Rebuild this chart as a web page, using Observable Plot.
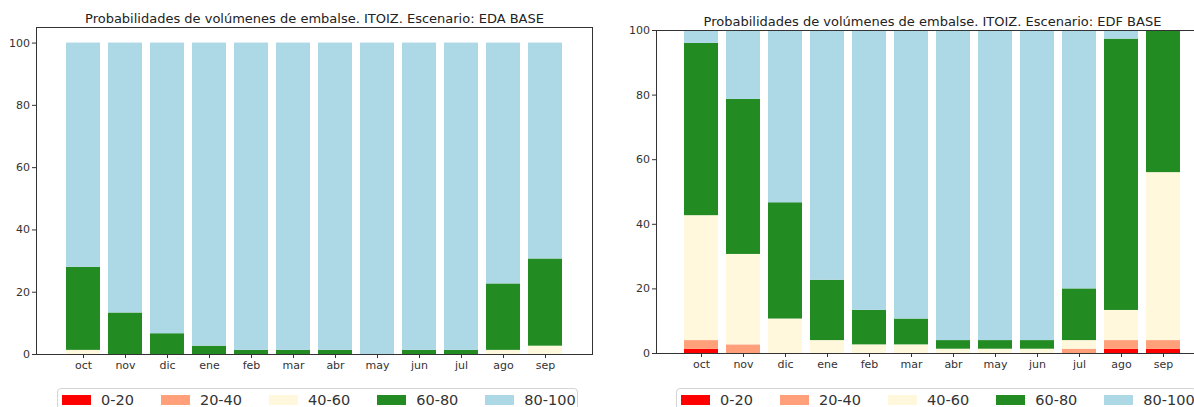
<!DOCTYPE html>
<html>
<head>
<meta charset="utf-8">
<script src="https://cdn.jsdelivr.net/npm/d3@7"></script>
<script src="https://cdn.jsdelivr.net/npm/@observablehq/plot@0.6"></script>
<style>
  html, body { margin: 0; padding: 0; background: #fff; }
  #fig { position: relative; width: 1194px; height: 407px; overflow: hidden; font-family: "DejaVu Sans", sans-serif; }
  .panel { position: absolute; top: 0; }
  .legend-box { position: absolute; top: 388px; width: 521px; height: 36px; box-sizing: border-box;
    border: 1px solid #d4d4d4; border-radius: 4px; background: #fff; padding: 3px 0 0 4px; }
  .legend-box > div { min-height: 0 !important; margin: 0 !important; flex-wrap: nowrap !important; white-space: nowrap; line-height: 16px; }
  .legend-box span { margin-right: 27px !important; }
  .legend-box span > svg { margin-right: 10px !important; }
</style>
</head>
<body>
<div id="fig"></div>
<script>
// Months of the hydrological year and storage-volume classes (% of capacity)
const months = ["oct", "nov", "dic", "ene", "feb", "mar", "abr", "may", "jun", "jul", "ago", "sep"];
const classes = ["0-20", "20-40", "40-60", "60-80", "80-100"];
const classColors = ["#ff0000", "#ffa07a", "#fff8dc", "#228b22", "#add8e6"];

const titleEDA = "Probabilidades de volúmenes de embalse. ITOIZ. Escenario: EDA BASE";
const titleEDF = "Probabilidades de volúmenes de embalse. ITOIZ. Escenario: EDF BASE";

// Scenario EDA BASE: probability (%) of each volume class per month
const eda_0_20   = [0, 0, 0, 0, 0, 0, 0, 0, 0, 0, 0, 0];
const eda_20_40  = [0, 0, 0, 0, 0, 0, 0, 0, 0, 0, 0, 0];
const eda_40_60  = [1.33, 0, 0, 0, 0, 0, 0, 0, 0, 0, 1.33, 2.67];
const eda_60_80  = [26.67, 13.33, 6.67, 2.67, 1.33, 1.33, 1.33, 0, 1.33, 1.33, 21.33, 28.00];
const eda_80_100 = [72.00, 86.67, 93.33, 97.33, 98.67, 98.67, 98.67, 100, 98.67, 98.67, 77.33, 69.33];

// Scenario EDF BASE
const edf_0_20   = [1.33, 0, 0, 0, 0, 0, 0, 0, 0, 0, 1.33, 1.33];
const edf_20_40  = [2.67, 2.67, 0, 0, 0, 0, 0, 0, 0, 1.33, 2.67, 2.67];
const edf_40_60  = [38.67, 28.00, 10.67, 4.00, 2.67, 2.67, 1.33, 1.33, 1.33, 2.67, 9.33, 52.00];
const edf_60_80  = [53.33, 48.00, 36.00, 18.67, 10.67, 8.00, 2.67, 2.67, 2.67, 16.00, 84.00, 44.00];
const edf_80_100 = [4.00, 21.33, 53.33, 77.33, 86.67, 89.33, 96.00, 96.00, 96.00, 80.00, 2.67, 0];

const yTicks = [0, 20, 40, 60, 80, 100];

function toRows(series) {
  const rows = [];
  months.forEach((m, i) => classes.forEach((c, j) => rows.push({month: m, cls: c, value: series[j][i]})));
  return rows;
}

function panel({title, series, yMax, width, marginTop, marginBottom, marginLeft, marginRight}) {
  return Plot.plot({
    width, height: 380, marginTop, marginBottom, marginLeft, marginRight,
    style: {fontFamily: "'DejaVu Sans', sans-serif", fontSize: "11px", color: "#333", background: "transparent", overflow: "visible"},
    x: {domain: months, paddingInner: 0.2, paddingOuter: 0.59, label: null, tickSize: 4, tickPadding: 3},
    y: {domain: [0, yMax], ticks: yTicks, label: null, tickSize: 4, tickPadding: 2.5},
    color: {domain: classes, range: classColors},
    marks: [
      Plot.barY(toRows(series), {x: "month", y: "value", fill: "cls"}),
      Plot.frame({stroke: "#333", strokeWidth: 1}),
      Plot.text([title], {frameAnchor: "top", lineAnchor: "middle", dy: -9, fontSize: 13, fill: "#222", text: d => d})
    ]
  });
}

function legend(left) {
  const box = document.createElement("div");
  box.className = "legend-box";
  box.style.left = left + "px";
  box.append(Plot.legend({
    color: {domain: classes, range: classColors},
    legend: "swatches",
    swatchWidth: 29,
    swatchHeight: 10,
    style: {fontSize: "14.5px", fontFamily: "'DejaVu Sans', sans-serif", color: "#333"}
  }));
  return box;
}

const fig = document.getElementById("fig");

const left = panel({
  title: titleEDA, series: [eda_0_20, eda_20_40, eda_40_60, eda_60_80, eda_80_100], yMax: 105,
  width: 600, marginTop: 27, marginBottom: 26, marginLeft: 36, marginRight: 8
});
left.classList.add("panel");
left.style.left = "0px";
fig.append(left);

const right = panel({
  title: titleEDF, series: [edf_0_20, edf_20_40, edf_40_60, edf_60_80, edf_80_100], yMax: 100,
  width: 620, marginTop: 30, marginBottom: 27, marginLeft: 56, marginRight: 12
});
right.classList.add("panel");
right.style.left = "600px";
fig.append(right);

fig.append(legend(57));
fig.append(legend(676));
</script>
</body>
</html>
